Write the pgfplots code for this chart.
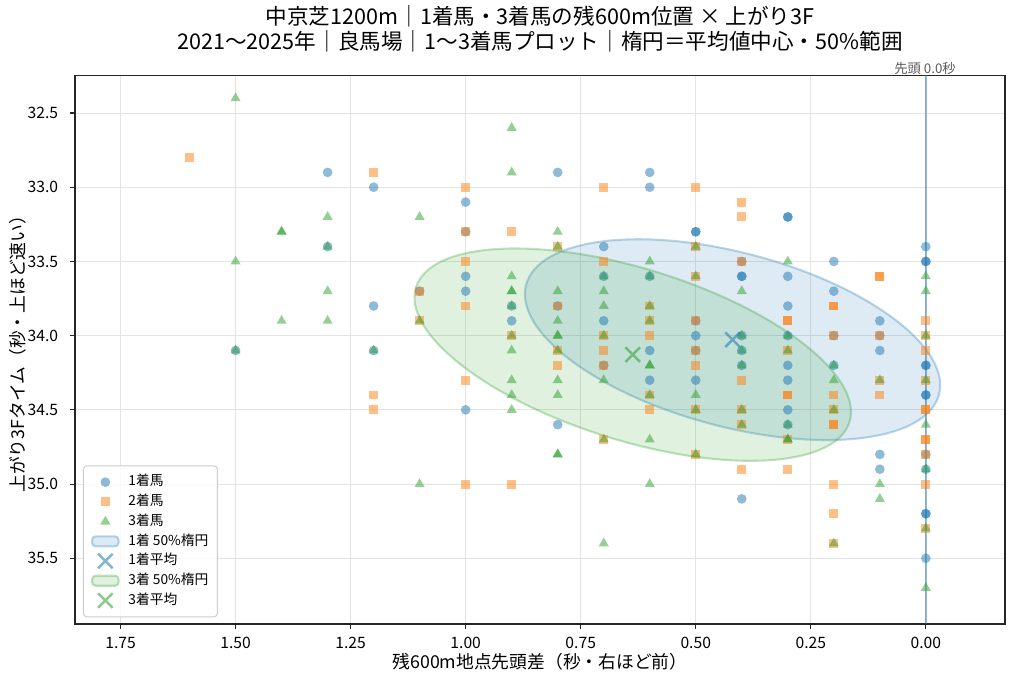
\documentclass[border=0pt]{standalone}
\usepackage{fontspec}
\setmainfont{Noto Sans CJK JP}
\usepackage{pgfplots}
\pgfplotsset{compat=1.18}
\definecolor{c0}{HTML}{1F77B4}
\definecolor{c1}{HTML}{FF7F0E}
\definecolor{c2}{HTML}{2CA02C}
\definecolor{framec}{RGB}{38,38,38}
\definecolor{gridc}{RGB}{228,228,228}
\definecolor{legc}{RGB}{204,204,204}
\definecolor{annc}{RGB}{90,90,90}
\pgfplotsset{
  legmark/.style={legend image code/.code={\draw[mark repeat=2,mark phase=2,##1] plot coordinates {(0pt,0pt) (9.5pt,0pt) (19pt,0pt)};}},
  legellA/.style={legend image code/.code={\draw[fill=c0, fill opacity=0.15, draw=c0, draw opacity=0.3, line width=1.5pt] (0pt,-3.6pt) rectangle (19pt,3.6pt);}},
  legellC/.style={legend image code/.code={\draw[fill=c2, fill opacity=0.15, draw=c2, draw opacity=0.3, line width=1.5pt] (0pt,-3.6pt) rectangle (19pt,3.6pt);}},
}
\begin{document}
\begin{tikzpicture}[x=1pt,y=1pt]
\useasboundingbox (0,0) rectangle (737.28,490.32);
\node[anchor=base,font=\fontsize{15.55}{18}\selectfont] at (388.8,472.8) {中京芝1200m｜1着馬・3着馬の残600m位置 × 上がり3F};
\node[anchor=base,font=\fontsize{15.55}{18}\selectfont] at (388.8,454.8) {2021～2025年｜良馬場｜1～3着馬プロット｜楕円＝平均値中心・50\%範囲};
\node[anchor=base,font=\fontsize{9.6}{11}\selectfont,text=annc,inner sep=0pt] at (666,437.3) {先頭 0.0秒};
\begin{axis}[
  at={(54pt,41.04pt)}, anchor=south west,
  scale only axis, width=669.6pt, height=394.92pt,
  x dir=reverse, y dir=reverse,
  xmin=-0.172, xmax=1.849, ymin=32.247, ymax=35.943,
  xtick={0,0.25,0.5,0.75,1,1.25,1.5,1.75},
  ytick={32.5,33,33.5,34,34.5,35,35.5},
  /pgf/number format/assume math mode=true,
  tick label style={font=\fontsize{11.3}{13}\selectfont, inner sep=0pt},
  xticklabel style={anchor=base, yshift=-14.2pt, /pgf/number format/fixed, /pgf/number format/fixed zerofill, /pgf/number format/precision=2},
  yticklabel style={anchor=base east, xshift=-8.4pt, yshift=-4pt, /pgf/number format/fixed, /pgf/number format/fixed zerofill, /pgf/number format/precision=1},
  xtick pos=bottom, ytick pos=left,
  tick align=outside, major tick length=3.5pt,
  every tick/.style={framec, line width=0.8pt},
  axis line style={framec, line width=0.85pt},
  grid=major, major grid style={gridc, line width=0.72pt},
  xlabel={残600m地点先頭差（秒・右ほど前）},
  ylabel={上がり3Fタイム（秒・上ほど速い）},
  xlabel style={at={(axis description cs:0.5,-0.081)}, anchor=base, font=\fontsize{12.8}{14}\selectfont},
  ylabel style={at={(axis description cs:-0.0544,0.5)}, anchor=base, font=\fontsize{12.8}{14}\selectfont},
  legend style={at={(0.0086,0.0122)}, anchor=south west,
    draw=legc, line width=0.72pt, rounded corners=2.5pt,
    fill=white, fill opacity=0.8, draw opacity=1, text opacity=1,
    font=\fontsize{9.9}{11}\selectfont,
    inner xsep=5.5pt, inner ysep=6pt, row sep=2.7pt, column sep=5.4pt,
    nodes={inner xsep=1pt, inner ysep=1pt, text height=7.5pt, text depth=2pt}},
  legend cell align=left,
]
\addplot[c0, only marks, mark=*, mark size=3.5pt, mark options={fill=c0, draw=c0, draw opacity=0, fill opacity=0.5}, legmark]
coordinates {(1.5,34.1) (1.3,32.9) (1.3,33.4) (1.2,33.0) (1.2,33.8) (1.2,34.1) (1.1,33.7) (1.0,33.1) (1.0,33.3) (1.0,33.6) (1.0,33.7) (1.0,34.5) (0.9,33.8) (0.9,33.9) (0.8,32.9) (0.8,33.8) (0.8,34.6) (0.7,33.4) (0.7,33.6) (0.7,33.9) (0.7,34.2) (0.6,32.9) (0.6,33.0) (0.6,33.6) (0.6,34.1) (0.6,34.3) (0.5,33.3) (0.5,33.3) (0.5,33.9) (0.5,34.0) (0.5,34.1) (0.5,34.3) (0.4,33.5) (0.4,33.6) (0.4,33.6) (0.4,34.0) (0.4,34.1) (0.4,34.2) (0.4,35.1) (0.3,33.2) (0.3,33.2) (0.3,33.6) (0.3,33.8) (0.3,34.0) (0.3,34.2) (0.3,34.3) (0.3,34.5) (0.3,34.6) (0.2,33.5) (0.2,33.7) (0.2,34.0) (0.2,34.2) (0.1,33.9) (0.1,34.0) (0.1,34.1) (0.1,34.8) (0.1,34.9) (0.0,33.4) (0.0,33.5) (0.0,33.5) (0.0,34.2) (0.0,34.2) (0.0,34.4) (0.0,34.4) (0.0,34.8) (0.0,34.9) (0.0,35.2) (0.0,35.2) (0.0,35.5)};
\addlegendentry{1着馬}
\addplot[c1, only marks, mark=square*, mark size=3.2pt, mark options={fill=c1, draw=c1, draw opacity=0, fill opacity=0.5}, legmark]
coordinates {(1.6,32.8) (1.2,32.9) (1.2,34.4) (1.2,34.5) (1.1,33.7) (1.1,33.9) (1.0,33.0) (1.0,33.3) (1.0,33.5) (1.0,33.8) (1.0,34.3) (1.0,35.0) (0.9,33.3) (0.9,34.0) (0.9,35.0) (0.8,33.4) (0.8,33.8) (0.8,34.1) (0.8,34.2) (0.7,33.0) (0.7,33.5) (0.7,34.0) (0.7,34.1) (0.7,34.2) (0.7,34.7) (0.6,33.8) (0.6,33.9) (0.6,34.0) (0.6,34.4) (0.6,34.5) (0.5,33.0) (0.5,33.4) (0.5,33.6) (0.5,33.9) (0.5,34.1) (0.5,34.2) (0.5,34.5) (0.5,34.8) (0.4,33.1) (0.4,33.2) (0.4,33.5) (0.4,34.3) (0.4,34.5) (0.4,34.6) (0.4,34.9) (0.3,33.9) (0.3,33.9) (0.3,34.1) (0.3,34.4) (0.3,34.4) (0.3,34.7) (0.3,34.9) (0.2,33.8) (0.2,33.8) (0.2,34.0) (0.2,34.4) (0.2,34.5) (0.2,34.6) (0.2,34.6) (0.2,35.0) (0.2,35.2) (0.2,35.4) (0.1,33.6) (0.1,33.6) (0.1,34.0) (0.1,34.3) (0.1,34.4) (0.0,33.9) (0.0,34.0) (0.0,34.1) (0.0,34.3) (0.0,34.5) (0.0,34.5) (0.0,34.7) (0.0,34.7) (0.0,34.8) (0.0,35.0) (0.0,35.3)};
\addlegendentry{2着馬}
\addplot[c2, only marks, mark=triangle*, mark size=4.2pt, mark options={fill=c2, draw=c2, draw opacity=0, fill opacity=0.5}, legmark]
coordinates {(1.5,32.4) (1.5,33.5) (1.5,34.1) (1.4,33.3) (1.4,33.3) (1.4,33.9) (1.3,33.2) (1.3,33.4) (1.3,33.7) (1.3,33.9) (1.2,34.1) (1.1,33.2) (1.1,33.9) (1.1,35.0) (0.9,32.6) (0.9,32.9) (0.9,33.6) (0.9,33.7) (0.9,33.7) (0.9,33.8) (0.9,34.0) (0.9,34.1) (0.9,34.3) (0.9,34.4) (0.9,34.5) (0.8,33.3) (0.8,33.4) (0.8,33.7) (0.8,33.9) (0.8,34.0) (0.8,34.0) (0.8,34.1) (0.8,34.3) (0.8,34.4) (0.8,34.8) (0.8,34.8) (0.7,33.6) (0.7,33.7) (0.7,33.8) (0.7,34.0) (0.7,34.3) (0.7,34.7) (0.7,35.4) (0.6,33.5) (0.6,33.6) (0.6,33.8) (0.6,33.9) (0.6,34.2) (0.6,34.2) (0.6,34.4) (0.6,34.7) (0.6,35.0) (0.5,33.4) (0.5,33.6) (0.5,34.4) (0.5,34.5) (0.5,34.8) (0.4,33.7) (0.4,34.0) (0.4,34.1) (0.4,34.2) (0.4,34.5) (0.4,34.6) (0.3,33.5) (0.3,34.0) (0.3,34.1) (0.3,34.6) (0.3,34.7) (0.3,34.7) (0.2,34.2) (0.2,34.3) (0.2,34.5) (0.2,35.4) (0.1,34.3) (0.1,35.0) (0.1,35.1) (0.0,33.6) (0.0,33.7) (0.0,34.0) (0.0,34.3) (0.0,34.6) (0.0,34.9) (0.0,35.3) (0.0,35.7)};
\addlegendentry{3着馬}
% reference line at leader
\addplot[forget plot, c0, draw opacity=0.5, line width=0.95pt] coordinates {(0,32.247) (0,35.943)};
% 1st ellipse
\path[fill=c0, fill opacity=0.15, draw=c0, draw opacity=0.3, line width=1.5pt,
  rotate around={-14.9:(axis cs:0.420,34.027)}] (axis cs:0.420,34.027) ellipse [x radius=153.8pt, y radius=62.6pt];
\addlegendimage{legellA}
\addlegendentry{1着 50\%楕円}
\addplot[only marks, mark=x, mark size=7.4pt, c0, opacity=0.55, mark options={line width=1.8pt}, legmark]
coordinates {(0.420,34.027)};
\addlegendentry{1着平均}
% 3rd ellipse
\path[fill=c2, fill opacity=0.15, draw=c2, draw opacity=0.3, line width=1.5pt,
  rotate around={-17.25:(axis cs:0.637,34.128)}] (axis cs:0.637,34.128) ellipse [x radius=163.4pt, y radius=61.9pt];
\addlegendimage{legellC}
\addlegendentry{3着 50\%楕円}
\addplot[only marks, mark=x, mark size=7.4pt, c2, opacity=0.55, mark options={line width=1.8pt}, legmark]
coordinates {(0.637,34.128)};
\addlegendentry{3着平均}
\end{axis}
\end{tikzpicture}
\end{document}
